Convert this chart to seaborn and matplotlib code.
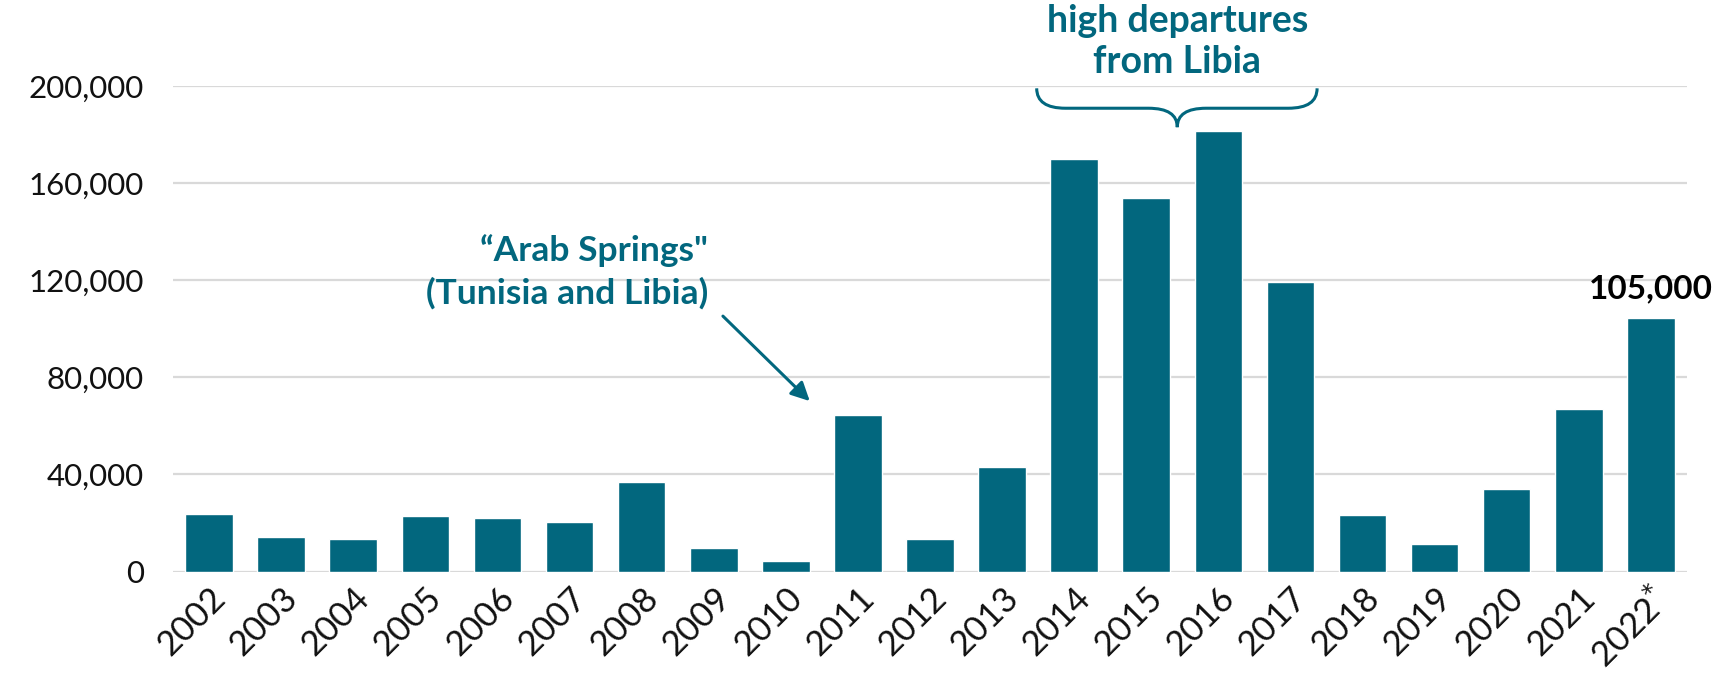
import pandas as pd
import matplotlib.pyplot as plt
import seaborn as sns
from matplotlib.path import Path
from matplotlib.patches import PathPatch
from matplotlib.ticker import FuncFormatter

# Sea arrivals per year
years = ['2002', '2003', '2004', '2005', '2006', '2007', '2008', '2009', '2010', '2011',
         '2012', '2013', '2014', '2015', '2016', '2017', '2018', '2019', '2020', '2021',
         '2022$^{*}$']
arrivals = [23700, 14300, 13600, 22900, 22000, 20500, 37000, 9600, 4400, 64500,
            13300, 42900, 170100, 153800, 181400, 119400, 23400, 11500, 34200, 67000,
            104300]
yticks = [0, 40000, 80000, 120000, 160000, 200000]

teal = '#02677E'
grid_grey = '#D9D9D9'

sns.set_style("white")
plt.rcParams['font.family'] = ['Lato', 'DejaVu Sans']

df = pd.DataFrame({'year': years, 'arrivals': arrivals})

fig = plt.figure(figsize=(17.27, 6.79), dpi=100)
ax = fig.add_axes([0.1002, 0.1582, 0.8766, 0.7153])

sns.barplot(data=df, x='year', y='arrivals', color=teal, saturation=1, width=0.66, ax=ax)

ax.set_xlim(-0.5, len(years) - 0.5)
ax.set_ylim(0, 200000)
ax.set_yticks(yticks)
ax.yaxis.set_major_formatter(FuncFormatter(lambda v, p: f'{int(v):,}'))
ax.grid(axis='y', color=grid_grey, lw=1.6)
ax.set_axisbelow(True)
sns.despine(ax=ax, left=True, bottom=True)
ax.set_xlabel('')
ax.set_ylabel('')
ax.tick_params(length=0, colors='#111111')
ax.tick_params(axis='y', pad=21, labelsize=22.5)
ax.tick_params(axis='x', pad=7, labelsize=25)
plt.setp(ax.get_xticklabels(), rotation=45, ha='right', rotation_mode='anchor')

# label on the last bar
ax.text(len(years) - 1, arrivals[-1] + 12000, '105,000', ha='center', va='center',
        fontsize=24, fontweight='bold', color='black')

# Arab Springs annotation with arrow
ax.text(6.92, 123400, '\u201cArab Springs"\n(Tunisia and Libia)', ha='right', va='center',
        multialignment='right', fontsize=25.5, fontweight='bold', color=teal, linespacing=1.4)
ax.annotate('', xy=(8.36, 69400), xytext=(7.1, 106000),
            arrowprops=dict(arrowstyle='-|>', color=teal, lw=2.2, mutation_scale=28))

# brace over 2014-2017
x0, x1, xc = 11.48, 15.37, 13.43
ytop, ymid, ytip = 199000, 190800, 183000
dx = 0.4
verts = [(x0, ytop), (x0, ymid), (x0 + dx, ymid),
         (xc - dx, ymid), (xc, ymid), (xc, ytip),
         (xc, ymid), (xc + dx, ymid),
         (x1 - dx, ymid), (x1, ymid), (x1, ytop)]
codes = [Path.MOVETO, Path.CURVE3, Path.CURVE3,
         Path.LINETO, Path.CURVE3, Path.CURVE3,
         Path.CURVE3, Path.CURVE3,
         Path.LINETO, Path.CURVE3, Path.CURVE3]
ax.add_patch(PathPatch(Path(verts, codes), fill=False, edgecolor=teal, lw=2.2, clip_on=False))

ax.text(xc, 218300, 'high departures\nfrom Libia', ha='center', va='center',
        fontsize=27, fontweight='bold', color=teal, linespacing=1.25)

fig.savefig('out.png', dpi=100)
